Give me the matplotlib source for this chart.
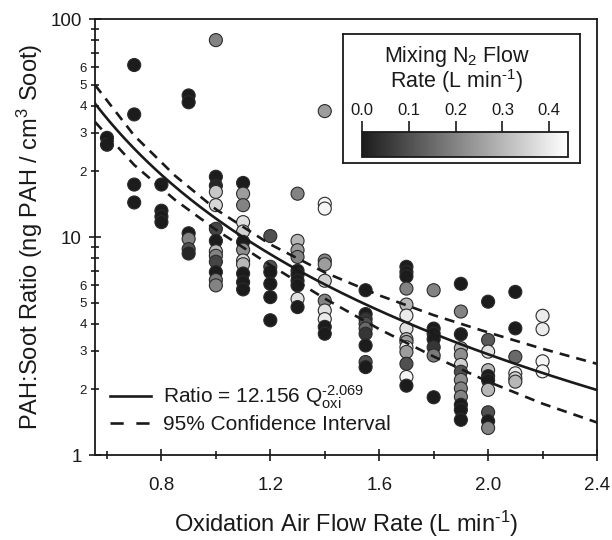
import matplotlib
matplotlib.use("Agg")
import matplotlib.pyplot as plt
import numpy as np
from matplotlib.colors import LinearSegmentedColormap, Normalize
from matplotlib.lines import Line2D
from matplotlib.ticker import FixedLocator, FixedFormatter

plt.rcParams['font.family'] = ['Liberation Sans', 'DejaVu Sans']
plt.rcParams['mathtext.fontset'] = 'custom'
plt.rcParams['mathtext.rm'] = 'Liberation Sans'
plt.rcParams['mathtext.it'] = 'Liberation Sans:italic'
plt.rcParams['mathtext.bf'] = 'Liberation Sans:bold'

INK = '#1a1a1a'

# oxidation air flow rate of each column of points (L/min)
air_flow = [0.6, 0.7, 0.8, 0.9, 1.0, 1.1, 1.2, 1.3, 1.4, 1.55, 1.7, 1.8, 1.9, 2.0, 2.1, 2.2]

# PAH:soot ratio, one list per column
ratio = [
    [28.5, 26.5],
    [61.5, 36.5, 17.4, 14.4],
    [17.4, 13.2, 12.4, 11.7],
    [44.6, 41.5, 10.4, 9.8, 8.8, 8.4],
    [80.0, 18.9, 17.2, 16.1, 14.0, 10.9, 9.6, 8.6, 8.2, 7.7, 6.9, 6.35, 6.0],
    [17.7, 15.8, 14.0, 11.7, 10.6, 9.5, 8.75, 7.8, 7.5, 6.8, 6.2, 5.75],
    [10.1, 7.3, 6.9, 6.1, 5.3, 4.15],
    [15.8, 9.6, 8.7, 8.1, 7.0, 6.7, 6.3, 6.0, 5.2, 4.77],
    [37.8, 14.2, 13.5, 7.8, 7.5, 6.3, 5.1, 4.6, 4.2, 3.87, 3.6],
    [5.7, 4.43, 4.2, 4.0, 3.8, 3.6, 3.18, 2.67, 2.53],
    [7.3, 6.9, 6.6, 5.8, 4.9, 4.36, 3.8, 3.4, 3.3, 3.12, 2.97, 2.62, 2.28, 2.08],
    [5.7, 3.8, 3.6, 3.4, 3.12, 2.86, 1.84],
    [6.1, 4.55, 3.58, 3.09, 2.88, 2.59, 2.41, 2.21, 2.02, 1.85, 1.7, 1.61, 1.45],
    [5.05, 3.37, 2.98, 2.45, 2.3, 2.2, 1.99, 1.57, 1.43, 1.33],
    [5.6, 3.81, 2.82, 2.37, 2.25, 2.17],
    [4.35, 3.78, 2.69, 2.42],
]

# mixing N2 flow rate (L/min) of every point, same layout as ratio
n2_flow = [
    [0.0, 0.0],
    [0.0, 0.0, 0.0, 0.0],
    [0.0, 0.0, 0.0, 0.0],
    [0.0, 0.0, 0.0, 0.2, 0.1, 0.02],
    [0.2, 0.0, 0.02, 0.33, 0.36, 0.08, 0.0, 0.3, 0.2, 0.08, 0.0, 0.18, 0.2],
    [0.0, 0.25, 0.2, 0.38, 0.35, 0.0, 0.22, 0.35, 0.3, 0.0, 0.0, 0.0],
    [0.1, 0.1, 0.0, 0.0, 0.0, 0.0],
    [0.2, 0.3, 0.25, 0.2, 0.0, 0.0, 0.0, 0.0, 0.38, 0.0],
    [0.25, 0.42, 0.42, 0.2, 0.25, 0.35, 0.2, 0.38, 0.4, 0.0, 0.0],
    [0.0, 0.0, 0.05, 0.1, 0.15, 0.05, 0.0, 0.1, 0.0],
    [0.0, 0.0, 0.0, 0.2, 0.3, 0.4, 0.38, 0.3, 0.25, 0.4, 0.25, 0.1, 0.42, 0.0],
    [0.2, 0.0, 0.0, 0.0, 0.05, 0.18, 0.0],
    [0.0, 0.2, 0.0, 0.3, 0.22, 0.35, 0.1, 0.22, 0.2, 0.2, 0.0, 0.0, 0.0],
    [0.0, 0.12, 0.38, 0.3, 0.0, 0.0, 0.3, 0.1, 0.0, 0.2],
    [0.0, 0.0, 0.15, 0.4, 0.35, 0.3],
    [0.4, 0.4, 0.42, 0.42],
]

# power law fit given in the legend
fit_a = 12.156
fit_b = -2.069

# 95% confidence band
ci_x = [0.556, 0.7, 0.85, 1.0, 1.2, 1.4, 1.6, 1.8, 2.0, 2.2, 2.4]
ci_upper = [49.8, 29.2, 19.1, 13.4, 9.25, 6.88, 5.4, 4.38, 3.65, 3.07, 2.62]
ci_lower = [33.7, 21.4, 14.8, 10.8, 7.43, 5.22, 3.78, 2.83, 2.17, 1.72, 1.41]

x_major = [0.8, 1.2, 1.6, 2.0, 2.4]
x_minor = [0.6, 1.0, 1.4, 1.8, 2.2]
cbar_ticks = [0.0, 0.1, 0.2, 0.3, 0.4]

HY = '\u2010'  # short hyphen used in the superscripts

W, H = 612, 540
fig = plt.figure(figsize=(W / 100, H / 100), dpi=100)
ax = fig.add_axes([95 / W, 1 - 455 / H, (597 - 95) / W, (455 - 19) / H])

cmap = LinearSegmentedColormap.from_list('n2', ['#1c1c1c', '#ffffff'])
norm = Normalize(vmin=0.0, vmax=0.44)

xs, ys, cs = [], [], []
for q, r_col, n_col in zip(air_flow, ratio, n2_flow):
    xs += [q] * len(r_col)
    ys += r_col
    cs += n_col

ax.scatter(xs, ys, c=cs, cmap=cmap, norm=norm, s=88, edgecolors='#2b2b2b',
           linewidths=0.8, zorder=3, clip_on=False)

q = np.linspace(0.556, 2.4, 200)
ax.plot(q, fit_a * q ** fit_b, color=INK, lw=1.9, zorder=4)
ax.plot(ci_x, ci_upper, color=INK, lw=1.9, dashes=(3.8, 2.7), zorder=4)
ax.plot(ci_x, ci_lower, color=INK, lw=1.9, dashes=(3.8, 2.7), zorder=4)

ax.set_xlim(0.556, 2.4)
ax.set_yscale('log')
ax.set_ylim(1, 100)

ax.xaxis.set_major_locator(FixedLocator(x_major))
ax.xaxis.set_major_formatter(FixedFormatter([f'{v:.1f}' for v in x_major]))
ax.xaxis.set_minor_locator(FixedLocator(x_minor))

y_minor = [m * d for d in (1, 10) for m in range(2, 10)]
y_minor_lab = [str(m) if m <= 6 else '' for d in (1, 10) for m in range(2, 10)]
ax.yaxis.set_major_locator(FixedLocator([1, 10, 100]))
ax.yaxis.set_major_formatter(FixedFormatter(['1', '10', '100']))
ax.yaxis.set_minor_locator(FixedLocator(y_minor))
ax.yaxis.set_minor_formatter(FixedFormatter(y_minor_lab))

ax.tick_params(which='both', direction='inout', color=INK, width=1.2, labelcolor=INK)
ax.tick_params(which='major', length=9, labelsize=13.5)
ax.tick_params(which='minor', length=6)
ax.tick_params(axis='y', which='minor', labelsize=9.5, pad=3)
ax.tick_params(axis='y', which='major', pad=5)
ax.tick_params(axis='x', which='major', pad=11)
for s in ax.spines.values():
    s.set_color(INK)
    s.set_linewidth(1.3)

ax.set_xlabel(f'Oxidation Air Flow Rate (L min$^{{{HY}1}}$)', fontsize=17, color=INK, labelpad=11)
ax.set_ylabel('PAH:Soot Ratio (ng PAH / cm$^{3}$ Soot)', fontsize=17, color=INK, labelpad=4)

handles = [Line2D([], [], color=INK, lw=1.9),
           Line2D([], [], color=INK, lw=1.9, dashes=(5.0, 4.8))]
labels = ['Ratio = 12.156 Q$_{\\mathrm{oxi}}^{\\mathrm{' + HY + '2.069}}$', '95% Confidence Interval']
leg = ax.legend(handles, labels, loc='lower left', bbox_to_anchor=(0.0, 0.015),
                frameon=False, fontsize=15, handlelength=2.0, handletextpad=0.55,
                labelspacing=0.2, borderaxespad=0.3)
for t in leg.get_texts():
    t.set_color(INK)

# colour bar box
box = fig.add_axes([343 / W, 1 - 163 / H, (580 - 343) / W, (163 - 34) / H])
box.set_xticks([])
box.set_yticks([])
for s in box.spines.values():
    s.set_color(INK)
    s.set_linewidth(1.3)
box.set_zorder(5)

cax = fig.add_axes([362 / W, 1 - 157 / H, (568 - 362) / W, (157 - 132) / H])
cax.set_zorder(6)
sm = plt.cm.ScalarMappable(cmap=cmap, norm=norm)
cb = fig.colorbar(sm, cax=cax, orientation='horizontal', ticks=cbar_ticks)
cb.outline.set_linewidth(1.3)
cb.outline.set_edgecolor(INK)
cax.xaxis.set_ticks_position('top')
cax.xaxis.set_label_position('top')
cax.set_xticklabels([f'{v:.1f}' for v in cbar_ticks])
cax.tick_params(axis='x', direction='out', length=8, width=1.2, color=INK,
                labelsize=12, labelcolor=INK, pad=2)

box.text(0.48, 0.785, 'Mixing N$_2$ Flow', transform=box.transAxes, ha='center',
         va='baseline', fontsize=15.5, color=INK)
box.text(0.48, 0.585, f'Rate (L min$^{{{HY}1}}$)', transform=box.transAxes, ha='center',
         va='baseline', fontsize=15.5, color=INK)

fig.savefig('out.png', dpi=100)
